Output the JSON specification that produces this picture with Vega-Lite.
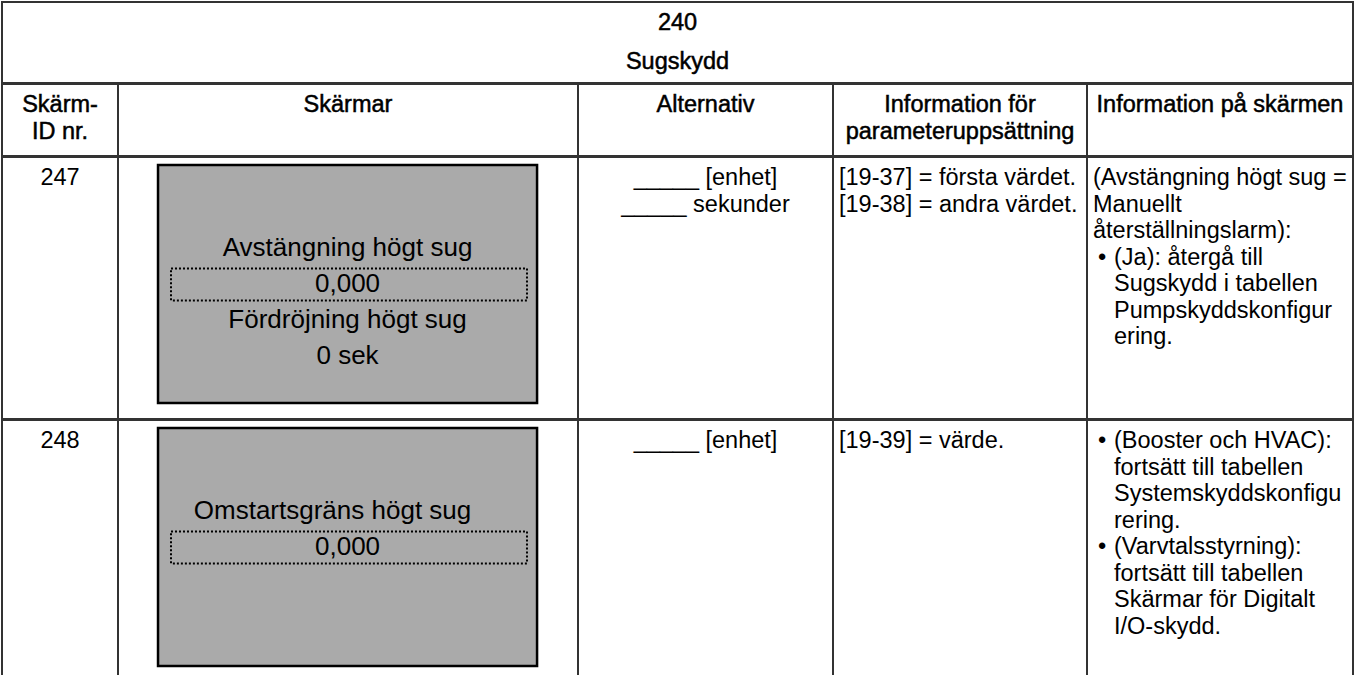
{
  "$schema": "https://vega.github.io/schema/vega-lite/v6.json",
  "padding": {"left": 1, "top": 1, "right": 0, "bottom": 0},
  "background": "#ffffff",
  "spacing": -2,
  "bounds": "full",
  "config": {
    "view": {"stroke": "#333333", "strokeWidth": 2},
    "text": {"font": "Liberation Sans", "fontSize": 23.5, "color": "#000000", "baseline": "middle"}
  },
  "datasets": {
    "table": [
      {"cell": "title", "line": 1, "text": "240"},
      {"cell": "title", "line": 2, "text": "Sugskydd"},
      {"cell": "h_id", "line": 1, "text": "Skärm-"},
      {"cell": "h_id", "line": 2, "text": "ID nr."},
      {"cell": "h_scr", "line": 1, "text": "Skärmar"},
      {"cell": "h_alt", "line": 1, "text": "Alternativ"},
      {"cell": "h_par", "line": 1, "text": "Information för"},
      {"cell": "h_par", "line": 2, "text": "parameteruppsättning"},
      {"cell": "h_inf", "line": 1, "text": "Information på skärmen"},
      {"cell": "247_id", "line": 1, "text": "247"},
      {"cell": "247_alt", "line": 1, "text": "_____ [enhet]"},
      {"cell": "247_alt", "line": 2, "text": "_____ sekunder"},
      {"cell": "247_par", "line": 1, "text": "[19-37] = första värdet."},
      {"cell": "247_par", "line": 2, "text": "[19-38] = andra värdet."},
      {"cell": "247_inf", "line": 1, "kind": "para", "text": "(Avstängning högt sug ="},
      {"cell": "247_inf", "line": 2, "kind": "para", "text": "Manuellt"},
      {"cell": "247_inf", "line": 3, "kind": "para", "text": "återställningslarm):"},
      {"cell": "247_inf", "line": 4, "kind": "bullet", "text": "(Ja): återgå till"},
      {"cell": "247_inf", "line": 5, "kind": "cont", "text": "Sugskydd i tabellen"},
      {"cell": "247_inf", "line": 6, "kind": "cont", "text": "Pumpskyddskonfigur"},
      {"cell": "247_inf", "line": 7, "kind": "cont", "text": "ering."},
      {"cell": "248_id", "line": 1, "text": "248"},
      {"cell": "248_alt", "line": 1, "text": "_____ [enhet]"},
      {"cell": "248_par", "line": 1, "text": "[19-39] = värde."},
      {"cell": "248_inf", "line": 1, "kind": "bullet", "text": "(Booster och HVAC):"},
      {"cell": "248_inf", "line": 2, "kind": "cont", "text": "fortsätt till tabellen"},
      {"cell": "248_inf", "line": 3, "kind": "cont", "text": "Systemskyddskonfigu"},
      {"cell": "248_inf", "line": 4, "kind": "cont", "text": "rering."},
      {"cell": "248_inf", "line": 5, "kind": "bullet", "text": "(Varvtalsstyrning):"},
      {"cell": "248_inf", "line": 6, "kind": "cont", "text": "fortsätt till tabellen"},
      {"cell": "248_inf", "line": 7, "kind": "cont", "text": "Skärmar för Digitalt"},
      {"cell": "248_inf", "line": 8, "kind": "cont", "text": "I/O-skydd."}
    ],
    "screens": [
      {"screen": 247, "slot": 1, "text": "Avstängning högt sug"},
      {"screen": 247, "slot": 2, "text": "0,000"},
      {"screen": 247, "slot": 3, "text": "Fördröjning högt sug"},
      {"screen": 247, "slot": 4, "text": "0 sek"},
      {"screen": 248, "slot": 1, "text": "Omstartsgräns högt sug"},
      {"screen": 248, "slot": 2, "text": "0,000"}
    ]
  },
  "vconcat": [
    {
      "width": 1351, "height": 81,
      "data": {"name": "table"},
      "transform": [{"filter": "datum.cell === 'title'"}],
      "mark": {"type": "text", "align": "center", "stroke": "#000000", "strokeWidth": 0.5},
      "encoding": {
        "x": {"datum": 0.5, "type": "quantitative", "scale": {"domain": [0, 1], "nice": false, "zero": false}, "axis": null},
        "y": {"field": "line", "type": "quantitative", "scale": {"domain": [0.4615, 2.5385], "reverse": true, "nice": false, "zero": false}, "axis": null},
        "text": {"field": "text"}
      }
    },
    {
      "spacing": 0, "bounds": "flush",
      "hconcat": [
        {
          "width": 116, "height": 72,
          "data": {"name": "table"},
          "transform": [{"filter": "datum.cell === 'h_id'"}],
          "mark": {"type": "text", "align": "center", "stroke": "#000000", "strokeWidth": 0.5},
          "encoding": {
            "x": {"datum": 0.5, "type": "quantitative", "scale": {"domain": [0, 1], "nice": false, "zero": false}, "axis": null},
            "y": {"field": "line", "type": "quantitative", "scale": {"domain": [0.2075, 2.9245], "reverse": true, "nice": false, "zero": false}, "axis": null},
            "text": {"field": "text"}
          }
        },
        {
          "width": 460, "height": 72,
          "data": {"name": "table"},
          "transform": [{"filter": "datum.cell === 'h_scr'"}],
          "mark": {"type": "text", "align": "center", "stroke": "#000000", "strokeWidth": 0.5},
          "encoding": {
            "x": {"datum": 0.5, "type": "quantitative", "scale": {"domain": [0, 1], "nice": false, "zero": false}, "axis": null},
            "y": {"field": "line", "type": "quantitative", "scale": {"domain": [0.2075, 2.9245], "reverse": true, "nice": false, "zero": false}, "axis": null},
            "text": {"field": "text"}
          }
        },
        {
          "width": 255, "height": 72,
          "data": {"name": "table"},
          "transform": [{"filter": "datum.cell === 'h_alt'"}],
          "mark": {"type": "text", "align": "center", "stroke": "#000000", "strokeWidth": 0.5},
          "encoding": {
            "x": {"datum": 0.5, "type": "quantitative", "scale": {"domain": [0, 1], "nice": false, "zero": false}, "axis": null},
            "y": {"field": "line", "type": "quantitative", "scale": {"domain": [0.2075, 2.9245], "reverse": true, "nice": false, "zero": false}, "axis": null},
            "text": {"field": "text"}
          }
        },
        {
          "width": 254, "height": 72,
          "data": {"name": "table"},
          "transform": [{"filter": "datum.cell === 'h_par'"}],
          "mark": {"type": "text", "align": "center", "stroke": "#000000", "strokeWidth": 0.5},
          "encoding": {
            "x": {"datum": 0.5, "type": "quantitative", "scale": {"domain": [0, 1], "nice": false, "zero": false}, "axis": null},
            "y": {"field": "line", "type": "quantitative", "scale": {"domain": [0.2075, 2.9245], "reverse": true, "nice": false, "zero": false}, "axis": null},
            "text": {"field": "text"}
          }
        },
        {
          "width": 266, "height": 72,
          "data": {"name": "table"},
          "transform": [{"filter": "datum.cell === 'h_inf'"}],
          "mark": {"type": "text", "align": "center", "stroke": "#000000", "strokeWidth": 0.5},
          "encoding": {
            "x": {"datum": 0.5, "type": "quantitative", "scale": {"domain": [0, 1], "nice": false, "zero": false}, "axis": null},
            "y": {"field": "line", "type": "quantitative", "scale": {"domain": [0.2075, 2.9245], "reverse": true, "nice": false, "zero": false}, "axis": null},
            "text": {"field": "text"}
          }
        }
      ]
    },
    {
      "spacing": 0, "bounds": "flush",
      "hconcat": [
        {
          "width": 116, "height": 262,
          "data": {"name": "table"},
          "transform": [{"filter": "datum.cell === '247_id'"}],
          "mark": {"type": "text", "align": "center"},
          "encoding": {
            "x": {"datum": 0.5, "type": "quantitative", "scale": {"domain": [0, 1], "nice": false, "zero": false}, "axis": null},
            "y": {"field": "line", "type": "quantitative", "scale": {"domain": [0.2075, 10.0943], "reverse": true, "nice": false, "zero": false}, "axis": null},
            "text": {"field": "text"}
          }
        },
        {
          "width": 460, "height": 262,
          "data": {"name": "screens"},
          "transform": [{"filter": "datum.screen === 247"}],
          "layer": [
            {
              "transform": [{"filter": "datum.slot === 1"}],
              "mark": {"type": "rect", "fill": "#aaaaaa", "stroke": "#000000", "strokeWidth": 2.5},
              "encoding": {
                "x": {"datum": 0.087, "type": "quantitative", "scale": {"domain": [0, 1], "nice": false, "zero": false}, "axis": null},
                "x2": {"datum": 0.911},
                "y": {"datum": -1.297, "type": "quantitative", "scale": {"domain": [-1.5187, 5.749], "reverse": true, "nice": false, "zero": false}, "axis": null},
                "y2": {"datum": 5.305}
              }
            },
            {
              "transform": [{"filter": "datum.slot === 2"}],
              "mark": {"type": "rect", "fill": "transparent", "stroke": "#000000", "strokeWidth": 2, "strokeDash": [2, 2]},
              "encoding": {
                "x": {"datum": 0.1152, "type": "quantitative", "scale": {"domain": [0, 1], "nice": false, "zero": false}, "axis": null},
                "x2": {"datum": 0.8891},
                "y": {"datum": 1.575, "type": "quantitative", "scale": {"domain": [-1.5187, 5.749], "reverse": true, "nice": false, "zero": false}, "axis": null},
                "y2": {"datum": 2.46}
              }
            },
            {
              "mark": {"type": "text", "align": "center", "fontSize": 26},
              "encoding": {
                "x": {"datum": 0.499, "type": "quantitative", "scale": {"domain": [0, 1], "nice": false, "zero": false}, "axis": null},
                "y": {"field": "slot", "type": "quantitative", "scale": {"domain": [-1.5187, 5.749], "reverse": true, "nice": false, "zero": false}, "axis": null},
                "text": {"field": "text"}
              }
            }
          ]
        },
        {
          "width": 255, "height": 262,
          "data": {"name": "table"},
          "transform": [{"filter": "datum.cell === '247_alt'"}],
          "mark": {"type": "text", "align": "center"},
          "encoding": {
            "x": {"datum": 0.5, "type": "quantitative", "scale": {"domain": [0, 1], "nice": false, "zero": false}, "axis": null},
            "y": {"field": "line", "type": "quantitative", "scale": {"domain": [0.2075, 10.0943], "reverse": true, "nice": false, "zero": false}, "axis": null},
            "text": {"field": "text"}
          }
        },
        {
          "width": 254, "height": 262,
          "data": {"name": "table"},
          "transform": [{"filter": "datum.cell === '247_par'"}],
          "mark": {"type": "text", "align": "left", "dx": 6},
          "encoding": {
            "x": {"datum": 0, "type": "quantitative", "scale": {"domain": [0, 1], "nice": false, "zero": false}, "axis": null},
            "y": {"field": "line", "type": "quantitative", "scale": {"domain": [0.2075, 10.0943], "reverse": true, "nice": false, "zero": false}, "axis": null},
            "text": {"field": "text"}
          }
        },
        {
          "width": 266, "height": 262,
          "data": {"name": "table"},
          "transform": [{"filter": "datum.cell === '247_inf'"}],
          "encoding": {
            "x": {"datum": 0, "type": "quantitative", "scale": {"domain": [0, 1], "nice": false, "zero": false}, "axis": null},
            "y": {"field": "line", "type": "quantitative", "scale": {"domain": [0.2075, 10.0943], "reverse": true, "nice": false, "zero": false}, "axis": null}
          },
          "layer": [
            {"transform": [{"filter": "datum.kind === 'para'"}], "mark": {"type": "text", "align": "left", "dx": 6}, "encoding": {"text": {"field": "text"}}},
            {"transform": [{"filter": "datum.kind !== 'para'"}], "mark": {"type": "text", "align": "left", "dx": 27}, "encoding": {"text": {"field": "text"}}},
            {"transform": [{"filter": "datum.kind === 'bullet'"}], "mark": {"type": "text", "align": "left", "dx": 11, "text": "•"}}
          ]
        }
      ]
    },
    {
      "spacing": 0, "bounds": "flush",
      "hconcat": [
        {
          "width": 116, "height": 262,
          "data": {"name": "table"},
          "transform": [{"filter": "datum.cell === '248_id'"}],
          "mark": {"type": "text", "align": "center"},
          "encoding": {
            "x": {"datum": 0.5, "type": "quantitative", "scale": {"domain": [0, 1], "nice": false, "zero": false}, "axis": null},
            "y": {"field": "line", "type": "quantitative", "scale": {"domain": [0.2075, 10.0943], "reverse": true, "nice": false, "zero": false}, "axis": null},
            "text": {"field": "text"}
          }
        },
        {
          "width": 460, "height": 262,
          "data": {"name": "screens"},
          "transform": [{"filter": "datum.screen === 248"}],
          "layer": [
            {
              "transform": [{"filter": "datum.slot === 1"}],
              "mark": {"type": "rect", "fill": "#aaaaaa", "stroke": "#000000", "strokeWidth": 2.5},
              "encoding": {
                "x": {"datum": 0.087, "type": "quantitative", "scale": {"domain": [0, 1], "nice": false, "zero": false}, "axis": null},
                "x2": {"datum": 0.911},
                "y": {"datum": -1.297, "type": "quantitative", "scale": {"domain": [-1.5187, 5.749], "reverse": true, "nice": false, "zero": false}, "axis": null},
                "y2": {"datum": 5.305}
              }
            },
            {
              "transform": [{"filter": "datum.slot === 2"}],
              "mark": {"type": "rect", "fill": "transparent", "stroke": "#000000", "strokeWidth": 2, "strokeDash": [2, 2]},
              "encoding": {
                "x": {"datum": 0.1152, "type": "quantitative", "scale": {"domain": [0, 1], "nice": false, "zero": false}, "axis": null},
                "x2": {"datum": 0.8891},
                "y": {"datum": 1.575, "type": "quantitative", "scale": {"domain": [-1.5187, 5.749], "reverse": true, "nice": false, "zero": false}, "axis": null},
                "y2": {"datum": 2.46}
              }
            },
            {
              "transform": [{"filter": "datum.slot === 1"}],
              "mark": {"type": "text", "align": "center", "fontSize": 26, "dx": -15},
              "encoding": {
                "x": {"datum": 0.499, "type": "quantitative", "scale": {"domain": [0, 1], "nice": false, "zero": false}, "axis": null},
                "y": {"field": "slot", "type": "quantitative", "scale": {"domain": [-1.5187, 5.749], "reverse": true, "nice": false, "zero": false}, "axis": null},
                "text": {"field": "text"}
              }
            },
            {
              "transform": [{"filter": "datum.slot !== 1"}],
              "mark": {"type": "text", "align": "center", "fontSize": 26},
              "encoding": {
                "x": {"datum": 0.499, "type": "quantitative", "scale": {"domain": [0, 1], "nice": false, "zero": false}, "axis": null},
                "y": {"field": "slot", "type": "quantitative", "scale": {"domain": [-1.5187, 5.749], "reverse": true, "nice": false, "zero": false}, "axis": null},
                "text": {"field": "text"}
              }
            }
          ]
        },
        {
          "width": 255, "height": 262,
          "data": {"name": "table"},
          "transform": [{"filter": "datum.cell === '248_alt'"}],
          "mark": {"type": "text", "align": "center"},
          "encoding": {
            "x": {"datum": 0.5, "type": "quantitative", "scale": {"domain": [0, 1], "nice": false, "zero": false}, "axis": null},
            "y": {"field": "line", "type": "quantitative", "scale": {"domain": [0.2075, 10.0943], "reverse": true, "nice": false, "zero": false}, "axis": null},
            "text": {"field": "text"}
          }
        },
        {
          "width": 254, "height": 262,
          "data": {"name": "table"},
          "transform": [{"filter": "datum.cell === '248_par'"}],
          "mark": {"type": "text", "align": "left", "dx": 6},
          "encoding": {
            "x": {"datum": 0, "type": "quantitative", "scale": {"domain": [0, 1], "nice": false, "zero": false}, "axis": null},
            "y": {"field": "line", "type": "quantitative", "scale": {"domain": [0.2075, 10.0943], "reverse": true, "nice": false, "zero": false}, "axis": null},
            "text": {"field": "text"}
          }
        },
        {
          "width": 266, "height": 262,
          "data": {"name": "table"},
          "transform": [{"filter": "datum.cell === '248_inf'"}],
          "encoding": {
            "x": {"datum": 0, "type": "quantitative", "scale": {"domain": [0, 1], "nice": false, "zero": false}, "axis": null},
            "y": {"field": "line", "type": "quantitative", "scale": {"domain": [0.2075, 10.0943], "reverse": true, "nice": false, "zero": false}, "axis": null}
          },
          "layer": [
            {"transform": [{"filter": "datum.kind === 'para'"}], "mark": {"type": "text", "align": "left", "dx": 6}, "encoding": {"text": {"field": "text"}}},
            {"transform": [{"filter": "datum.kind !== 'para'"}], "mark": {"type": "text", "align": "left", "dx": 27}, "encoding": {"text": {"field": "text"}}},
            {"transform": [{"filter": "datum.kind === 'bullet'"}], "mark": {"type": "text", "align": "left", "dx": 11, "text": "•"}}
          ]
        }
      ]
    }
  ]
}
